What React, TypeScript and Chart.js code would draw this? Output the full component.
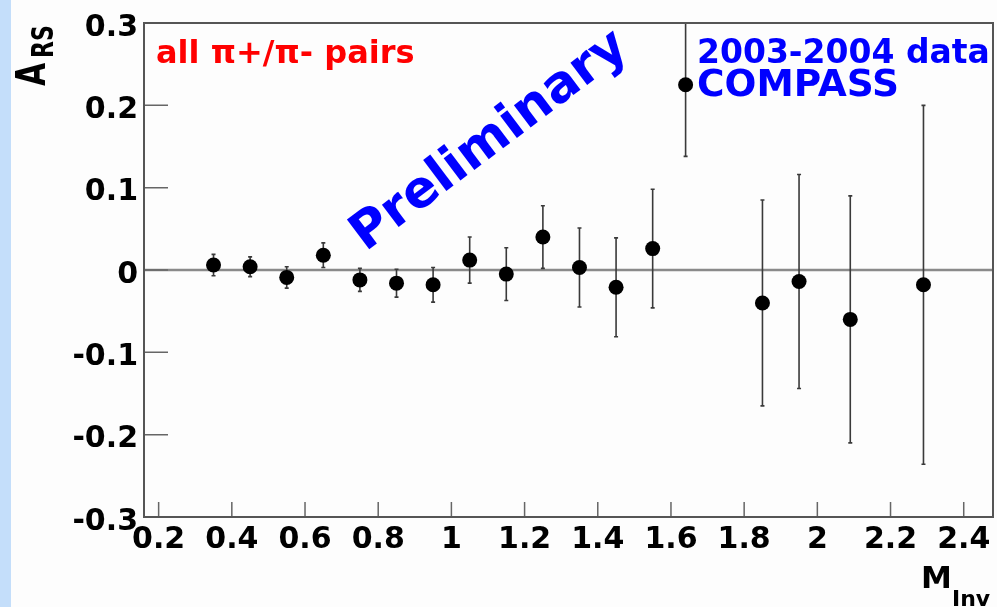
import React, { useEffect, useRef } from "react";
import { Chart, registerables } from "chart.js";

Chart.register(...registerables);

// ---- data ----
const xVals = [0.35, 0.45, 0.55, 0.65, 0.75, 0.85, 0.95, 1.05, 1.15, 1.25, 1.35, 1.45, 1.55, 1.64, 1.85, 1.95, 2.09, 2.29];
const yVals = [0.006, 0.004, -0.009, 0.018, -0.012, -0.016, -0.018, 0.012, -0.005, 0.04, 0.003, -0.021, 0.026, 0.225, -0.04, -0.014, -0.06, -0.018];
const yErrs = [0.013, 0.012, 0.013, 0.015, 0.014, 0.017, 0.021, 0.028, 0.032, 0.038, 0.048, 0.06, 0.072, 0.087, 0.125, 0.13, 0.15, 0.218];

const xTicks = [0.2, 0.4, 0.6, 0.8, 1.0, 1.2, 1.4, 1.6, 1.8, 2.0, 2.2, 2.4];
const xTickLabels = ["0.2", "0.4", "0.6", "0.8", "1", "1.2", "1.4", "1.6", "1.8", "2", "2.2", "2.4"];
const yTicks = [-0.3, -0.2, -0.1, 0, 0.1, 0.2, 0.3];
const yTickLabels = ["-0.3", "-0.2", "-0.1", "0", "0.1", "0.2", "0.3"];
const xRange = [0.16, 2.48];
const yRange = [-0.3, 0.3];

const selectionText = "all \u03c0+/\u03c0- pairs";
const prelimText = "Preliminary";
const dataText = "2003-2004 data";
const expText = "COMPASS";
const yTitleMain = "A";
const yTitleSub = "RS";
const xTitleMain = "M";
const xTitleSub = "Inv";

const FONT = "'DejaVu Sans', sans-serif";

function lookup(ticks: number[], labels: string[], v: number): string {
  const i = ticks.findIndex((t) => Math.abs(t - v) < 1e-9);
  return i >= 0 ? labels[i] : "";
}

export default function App() {
  const ref = useRef<HTMLCanvasElement>(null);

  useEffect(() => {
    if (!ref.current) return;

    const rootStyle = {
      id: "rootStyle",
      beforeDatasetsDraw(chart: any) {
        const { ctx, chartArea: a, scales } = chart;
        const x = scales.x;
        const y = scales.y;
        ctx.save();
        // zero line
        const y0 = y.getPixelForValue(0);
        ctx.strokeStyle = "#8a8a8a";
        ctx.lineWidth = 2.5;
        ctx.beginPath();
        ctx.moveTo(a.left, y0);
        ctx.lineTo(a.right, y0);
        ctx.stroke();
        // error bars
        ctx.beginPath();
        ctx.rect(a.left, a.top, a.right - a.left, a.bottom - a.top);
        ctx.clip();
        ctx.strokeStyle = "#3a3a3a";
        ctx.lineWidth = 1.6;
        xVals.forEach((xv, i) => {
          const px = x.getPixelForValue(xv);
          const pt = y.getPixelForValue(yVals[i] + yErrs[i]);
          const pb = y.getPixelForValue(yVals[i] - yErrs[i]);
          ctx.beginPath();
          ctx.moveTo(px, pt);
          ctx.lineTo(px, pb);
          ctx.moveTo(px - 2, pt);
          ctx.lineTo(px + 2, pt);
          ctx.moveTo(px - 2, pb);
          ctx.lineTo(px + 2, pb);
          ctx.stroke();
        });
        ctx.restore();

        // frame and inner ticks
        ctx.save();
        ctx.strokeStyle = "#666";
        ctx.lineWidth = 1.5;
        ctx.beginPath();
        y.ticks.forEach((t: any) => {
          const py = y.getPixelForValue(t.value);
          ctx.moveTo(a.left, py);
          ctx.lineTo(a.left + 24, py);
        });
        x.ticks.forEach((t: any) => {
          const px = x.getPixelForValue(t.value);
          ctx.moveTo(px, a.bottom);
          ctx.lineTo(px, a.bottom - 15);
        });
        ctx.stroke();
        ctx.strokeStyle = "#555";
        ctx.lineWidth = 2;
        ctx.strokeRect(a.left, a.top, a.right - a.left, a.bottom - a.top);
        ctx.restore();
      },
      afterDatasetsDraw(chart: any) {
        const { ctx } = chart;
        ctx.save();
        ctx.textAlign = "left";
        ctx.textBaseline = "alphabetic";

        // selection label
        ctx.fillStyle = "#ff0000";
        ctx.font = `bold 32px ${FONT}`;
        ctx.fillText(selectionText, 156, 63);

        // data set labels
        ctx.fillStyle = "#0000ff";
        ctx.font = `bold 33px ${FONT}`;
        ctx.fillText(dataText, 697, 63);
        ctx.font = `bold 37.5px ${FONT}`;
        ctx.fillText(expText, 697, 96);

        // Preliminary
        ctx.save();
        ctx.translate(490, 141.5);
        ctx.rotate((-37 * Math.PI) / 180);
        ctx.textAlign = "center";
        ctx.textBaseline = "middle";
        ctx.font = `bold 51px ${FONT}`;
        ctx.fillText(prelimText, 0, 0);
        ctx.restore();

        // y title
        ctx.fillStyle = "#000";
        ctx.save();
        ctx.translate(45, 86);
        ctx.scale(1.35, 1);
        ctx.rotate(-Math.PI / 2);
        ctx.font = `bold 30px ${FONT}`;
        ctx.fillText(yTitleMain, 0, 0);
        ctx.restore();
        ctx.save();
        ctx.translate(53, 58);
        ctx.scale(1.35, 1);
        ctx.rotate(-Math.PI / 2);
        ctx.font = `bold 22px ${FONT}`;
        ctx.fillText(yTitleSub, 0, 0);
        ctx.restore();

        // x title
        ctx.font = `bold 31px ${FONT}`;
        ctx.fillText(xTitleMain, 921, 588);
        ctx.font = `bold 22px ${FONT}`;
        ctx.fillText(xTitleSub, 952, 606);

        ctx.restore();
      },
    };

    const tickFont = { family: FONT, size: 30, weight: "bold" as const };

    const chart = new Chart(ref.current, {
      type: "scatter",
      data: {
        datasets: [
          {
            data: xVals.map((xv, i) => ({ x: xv, y: yVals[i] })),
            pointRadius: 7.5,
            pointHoverRadius: 7.5,
            pointBackgroundColor: "#000",
            pointBorderWidth: 0,
            showLine: false,
          },
        ],
      },
      options: {
        animation: false,
        responsive: false,
        events: [],
        layout: { autoPadding: false, padding: { top: 23, right: 4, left: 0, bottom: 0 } },
        plugins: { legend: { display: false }, tooltip: { enabled: false } },
        scales: {
          x: {
            type: "linear",
            min: xRange[0],
            max: xRange[1],
            afterBuildTicks: (s: any) => {
              s.ticks = xTicks.map((v) => ({ value: v }));
            },
            afterFit: (s: any) => {
              s.height = 90;
              s.paddingLeft = 0;
              s.paddingRight = 0;
            },
            grid: { display: false, drawTicks: false },
            border: { display: false },
            ticks: {
              autoSkip: false,
              maxRotation: 0,
              minRotation: 0,
              padding: 5,
              color: "#000",
              font: tickFont,
              callback: (v: any) => lookup(xTicks, xTickLabels, Number(v)),
            },
          },
          y: {
            type: "linear",
            min: yRange[0],
            max: yRange[1],
            afterBuildTicks: (s: any) => {
              s.ticks = yTicks.map((v) => ({ value: v }));
            },
            afterFit: (s: any) => {
              s.width = 144;
              s.paddingTop = 0;
              s.paddingBottom = 0;
            },
            grid: { display: false, drawTicks: false },
            border: { display: false },
            ticks: {
              autoSkip: false,
              padding: 6,
              labelOffset: 5,
              color: "#000",
              font: tickFont,
              callback: (v: any) => lookup(yTicks, yTickLabels, Number(v)),
            },
          },
        },
      },
      plugins: [rootStyle],
    });

    return () => chart.destroy();
  }, []);

  return (
    <div
      style={{
        position: "fixed",
        left: 0,
        top: 0,
        width: 997,
        height: 607,
        background: "#fdfdfd",
        overflow: "hidden",
      }}
    >
      <div style={{ position: "absolute", left: 0, top: 0, width: 11, height: 607, background: "#c4defa" }} />
      <canvas ref={ref} width={997} height={607} style={{ position: "absolute", left: 0, top: 0 }} />
    </div>
  );
}
